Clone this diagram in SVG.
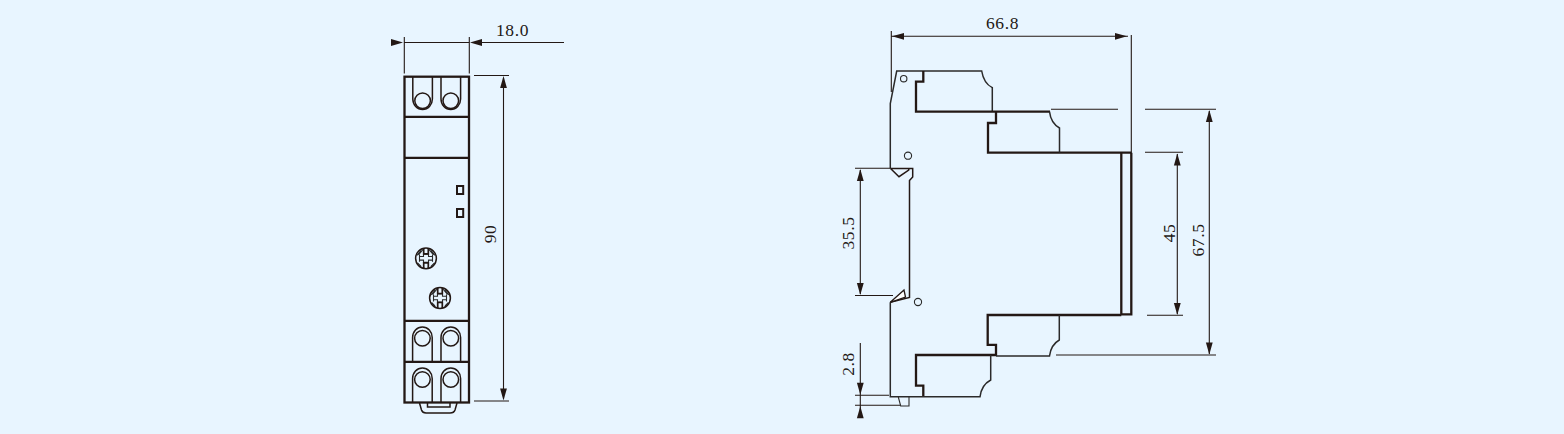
<svg xmlns="http://www.w3.org/2000/svg" width="1564" height="434" viewBox="0 0 1564 434">
<style>
.t{fill:none;stroke:#231815;stroke-width:2.3}
.m{fill:none;stroke:#231815;stroke-width:1.5}
.o{fill:none;stroke:#2b2a2a;stroke-width:1.5}
.n{fill:none;stroke:#2a2a2a;stroke-width:1.1}
.d{fill:none;stroke:#231815;stroke-width:1.1}
.l{font-family:"Liberation Serif","Times New Roman",serif;font-size:17.5px;letter-spacing:.6px;fill:#231815;text-anchor:middle}
.h{fill:#231815}
</style>
<defs>
<path id="au" class="h" d="M0 0L-3.4 12H3.4Z"/>
<path id="ad" class="h" d="M0 0L-3.4 -12H3.4Z"/>
<path id="al" class="h" d="M0 0L12 -3.4V3.4Z"/>
<path id="ar" class="h" d="M0 0L-12 -3.4V3.4Z"/>
<g id="knob">
<circle r="10.4" class="m"/>
<path class="n" d="M-2.5 -4V-1.8H-6.5V1.8H-2.5V4M2.5 -4V-1.8H6.5V1.8H2.5V4M-6.5 -3.5V3.5M6.5 -3.5V3.5M-3 -4H3M-3 4H3M-2.5 -9.5L-7.5 -3.5M2.5 -9.5L7.5 -3.5M-5 -8L-9 -3M5 -8L9 -3M-8.5 4.5L-5 8M8.5 4.5L5 8"/>
<path class="m" style="stroke-width:1.7" d="M-2.3 -10V-4.5H2.3V-10M-2.3 10V4.5H2.3V10"/>
</g>
<path id="slotD" class="m" d="M-9.8 0V22A9.8 10.5 0 0 0 9.8 22V0"/>
<path id="slotU" class="m" d="M-9.8 0V-23.5A9.8 10.5 0 0 1 9.8 -23.5V0"/>
</defs>
<rect width="1564" height="434" fill="#E8F5FF"/>

<g id="front-body">
<rect x="404.5" y="76.7" width="64.5" height="325.8" class="t"/>
<path class="t" d="M404.5 116.8H469M404.5 157.8H469M404.5 320.8H469M404.5 361.8H469"/>
</g>
<g id="front-top-terminals">
<use href="#slotD" x="422.6" y="77"/><circle cx="422.6" cy="100.7" r="7.8" class="m"/>
<use href="#slotD" x="450.8" y="77"/><circle cx="450.8" cy="100.7" r="7.8" class="m"/>
</g>
<g id="front-bottom-terminals">
<use href="#slotU" x="422.4" y="361"/><circle cx="422.4" cy="338.3" r="7.8" class="m"/>
<use href="#slotU" x="450.8" y="361"/><circle cx="450.8" cy="338.3" r="7.8" class="m"/>
<use href="#slotU" x="422.4" y="402"/><circle cx="422.4" cy="379.5" r="7.8" class="m"/>
<use href="#slotU" x="450.8" y="402"/><circle cx="450.8" cy="379.5" r="7.8" class="m"/>
</g>
<g id="front-clip">
<path class="m" d="M419.5 403L421.5 410Q422.5 413 426 413H450Q454 413 455 410L457 403M427.5 403V407H450V403"/>
</g>
<g id="front-leds">
<rect x="457" y="186" width="6.2" height="8" fill="none" stroke="#231815" stroke-width="2"/>
<rect x="457" y="209" width="6.2" height="8" fill="none" stroke="#231815" stroke-width="2"/>
</g>
<g id="front-knob-1"><use href="#knob" x="426" y="258.3"/></g>
<g id="front-knob-2"><use href="#knob" x="440" y="298"/></g>

<g id="side-body">
<path class="o" d="M890.3 168.3V103.5L896.7 71H923.3M923.3 71H981.7C983 79 987 85 992.3 87.7V111.7"/>
<path class="t" d="M923.3 71V81.7H916V111.7H1050M996 111.7V123H988V152.7H1131.3"/>
<path class="o" d="M1049.5 111.7C1050.5 120 1054 125 1059.5 128V152.7"/>
<path class="t" d="M1121.3 152.7V315M1131.3 152.7V314.3H1121.3M1121.3 315H987.7V344.8H996V356"/>
<path class="o" d="M996 356H1049.5C1050.5 348 1054 343 1059.3 340V315"/>
<path class="t" d="M996 355H916V385.7H923.3V396.8"/>
<path class="o" d="M890.3 302.3V396.8H980C981 389 985 383 990.7 380V355"/>
<path class="n" d="M898.3 397L900.7 406H909V397"/>
<path class="m" d="M890.3 168.3L899 176.7L908.7 170L909 168.5H890.3M909 168.5H912.7V177L909.5 180.5V297.5L890.3 302.3"/>
<path d="M890.3 302.3L904 290L905.5 297Z" fill="#fff" stroke="#231815" stroke-width="1.3"/>
<circle cx="903.7" cy="78.7" r="3.2" class="n"/>
<circle cx="908" cy="155.7" r="3.6" class="n"/>
<circle cx="918" cy="302" r="3.6" class="n"/>
</g>

<g id="connectors">
<path class="d" d="M404.3 37V73.5M469.3 37V73.5M404.3 42.5H469.3M482 42.5H564"/>
<use href="#al" x="391" y="42.5" transform="rotate(180 397 42.5)"/>
<use href="#al" x="470" y="42.5"/>
<path class="d" d="M474 75.5H509M474 401H509M503.5 78V399"/>
<use href="#au" x="503.5" y="76"/><use href="#ad" x="503.5" y="400.5"/>

<path class="d" d="M891.3 31V92M891.3 36.3H1128M1131.3 35V153"/>
<use href="#al" x="892" y="36.3"/><use href="#ar" x="1127" y="36.3"/>

<path class="d" d="M855 168.3H890M855 295.5H893M860.3 170V294"/>
<use href="#au" x="860.3" y="169"/><use href="#ad" x="860.3" y="295"/>

<path class="d" d="M855 395.3H889M855 405.3H900M860.3 343V418"/>
<use href="#ad" x="860.3" y="394.7"/><use href="#au" x="860.3" y="406.3"/>

<path class="d" d="M1051 109.3H1118M1145 109.3H1216M1145 152.3H1183M1147 315.3H1183M1056 355H1216M1177.3 154V314M1209.3 111V354"/>
<use href="#au" x="1177.3" y="153.5"/><use href="#ad" x="1177.3" y="315"/>
<use href="#au" x="1209.3" y="110"/><use href="#ad" x="1209.3" y="354.5"/>
</g>

<g id="labels">
<text class="l" x="512.5" y="36">18.0</text>
<text class="l" x="1002.5" y="29">66.8</text>
<text class="l" transform="translate(496 234) rotate(-90)">90</text>
<text class="l" transform="translate(854 233) rotate(-90)">35.5</text>
<text class="l" transform="translate(854 364) rotate(-90)">2.8</text>
<text class="l" transform="translate(1175 233) rotate(-90)">45</text>
<text class="l" transform="translate(1204 240) rotate(-90)">67.5</text>
</g>
</svg>
